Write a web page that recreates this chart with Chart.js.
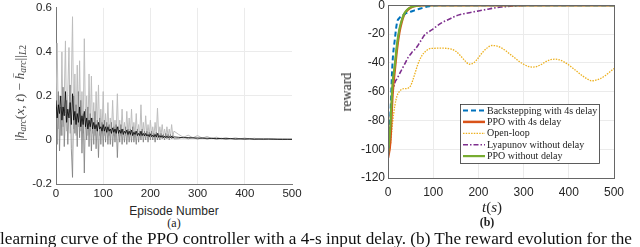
<!DOCTYPE html>
<html>
<head>
<meta charset="utf-8">
<script src="https://cdn.jsdelivr.net/npm/chart.js@4.4.0/dist/chart.umd.min.js"></script>
<style>
body { margin: 0; width: 640px; height: 247px; overflow: hidden; background: #fff; position: relative; font-family: 'Liberation Serif', serif; }
canvas { position: absolute; }
#learnChart { left: 0; top: -3px; }
#rewardChart { left: 320px; top: -5px; }
.lbl { position: absolute; white-space: nowrap; color: #222; transform: translate(-50%, -50%); }
.rot { transform: translate(-50%, -50%) rotate(-90deg); }
.lbl sub { font-size: 70%; vertical-align: -2px; }
</style>
</head>
<body>
<canvas id="learnChart" width="310" height="203"></canvas>
<canvas id="rewardChart" width="320" height="205"></canvas>

<div class="lbl rot" style="left:20px; top:93px; font-size:13.5px; color:#444;">|<i>h</i><sub><i>arc</i></sub>(<i>x</i>, <i>t</i>) &minus; <i>h&#772;</i><sub><i>arc</i></sub>||<sub><i>L</i>2</sub></div>
<div class="lbl" style="left:174px; top:211px; font:12px 'Liberation Sans', sans-serif; color:#262626;">Episode Number</div>
<div class="lbl" style="left:174px; top:222.5px; font-size:12px;">(a)</div>
<div class="lbl rot" style="left:347px; top:92px; font-size:14px;">reward</div>
<div class="lbl" style="left:492px; top:207px; font-size:15px;"><i>t</i>(<i>s</i>)</div>
<div class="lbl" style="left:487px; top:222px; font-size:12px; font-weight:bold;">(b)</div>
<div id="caption" class="lbl" style="left:0; top:229px; transform:none; font-size:16px; color:#111;">learning curve of the PPO controller with a 4-s input delay. (b) The reward evolution for the</div>

<script>
// (a) learning curve: every 2.5 episodes up to 250, then every 10
const lightTrace = [0.15, 0.44, 0.05, 0.20, 0.02, 0.40, 0.06, 0.18, 0.45, 0.04,
  0.22, 0.42, 0.03, 0.25, 0.56, 0.05, 0.30, 0.02, 0.34, 0.06,
  0.36, 0.04, 0.22, 0.03, 0.46, 0.05, 0.20, 0.02, 0.30, 0.04,
  0.29, 0.03, 0.17, 0.02, 0.22, 0.04, 0.25, 0.02, 0.14, 0.03,
  0.22, 0.02, 0.12, 0.03, 0.17, 0.02, 0.10, 0.03, 0.18, 0.02,
  0.09, 0.03, 0.21, 0.02, 0.09, 0.02, 0.14, 0.03, 0.08, 0.02,
  0.13, 0.02, 0.10, 0.02, 0.14, 0.02, 0.08, 0.02, 0.12, 0.02,
  0.07, 0.02, 0.16, 0.02, 0.08, 0.02, 0.11, 0.02, 0.07, 0.02,
  0.09, 0.02, 0.06, 0.02, 0.08, 0.02, 0.145, 0.02, 0.06, 0.02,
  0.07, 0.015, 0.05, 0.015, 0.06, 0.015, 0.05, 0.015, 0.07, 0.015,
  0.04,
  0.025, 0.012, 0.022, 0.01, 0.02, 0.008, 0.016, 0.007, 0.013, 0.006,
  0.011, 0.005, 0.01, 0.005, 0.009, 0.004, 0.008, 0.004, 0.007, 0.004,
  0.006, 0.004, 0.006, 0.003, 0.005];
const midTrace = [0.12, -0.02, 0.22, -0.05, 0.15, 0.02, 0.24, -0.03, 0.12, 0.18,
  -0.02, 0.14, 0.25, -0.04, -0.17, 0.20, 0.03, 0.16, -0.03, 0.22,
  0.01, 0.18, -0.06, 0.12, -0.15, 0.14, 0.00, 0.15, -0.03, 0.12,
  -0.05, 0.10, -0.02, 0.13, -0.04, 0.09, -0.08, 0.10, -0.02, 0.08,
  -0.03, 0.09, -0.01, 0.08, -0.02, 0.07, -0.02, 0.08, -0.03, 0.06,
  -0.01, 0.07, -0.08, 0.06, -0.01, 0.07, -0.02, 0.05, -0.01, 0.06,
  -0.02, 0.05, -0.01, 0.05, -0.01, 0.06, -0.01, 0.04, -0.02, 0.05,
  -0.01, 0.04, 0.00, 0.05, -0.01, 0.04, 0.00, 0.04, -0.01, 0.035,
  0.00, 0.04, 0.00, 0.03, -0.01, 0.035, 0.00, 0.03, 0.00, 0.03,
  0.005, 0.025, 0.00, 0.03, 0.005, 0.025, 0.00, 0.025, 0.005, 0.02,
  0.005,
  0.006, 0.014, 0.005, 0.012, 0.004, 0.011, 0.004, 0.009, 0.003, 0.008,
  0.003, 0.007, 0.003, 0.006, 0.002, 0.006, 0.002, 0.005, 0.002, 0.005,
  0.002, 0.004, 0.002, 0.004, 0.002];
const meanTrace = [0.18, 0.10, 0.16, 0.12, 0.20, 0.09, 0.15, 0.11, 0.22, 0.08,
  0.14, 0.10, 0.17, 0.07, 0.21, 0.09, 0.13, 0.07, 0.12, 0.08,
  0.15, 0.06, 0.11, 0.07, 0.13, 0.06, 0.10, 0.05, 0.09, 0.06,
  0.10, 0.05, 0.08, 0.05, 0.07, 0.04, 0.08, 0.05, 0.06, 0.04,
  0.07, 0.04, 0.06, 0.035, 0.06, 0.04, 0.05, 0.03, 0.055, 0.035,
  0.05, 0.03, 0.06, 0.03, 0.045, 0.03, 0.05, 0.025, 0.04, 0.03,
  0.045, 0.025, 0.04, 0.025, 0.045, 0.02, 0.035, 0.025, 0.04, 0.02,
  0.03, 0.02, 0.04, 0.02, 0.03, 0.018, 0.03, 0.018, 0.025, 0.015,
  0.028, 0.015, 0.022, 0.014, 0.025, 0.013, 0.03, 0.012, 0.02, 0.012,
  0.02, 0.01, 0.018, 0.01, 0.017, 0.01, 0.016, 0.009, 0.018, 0.009,
  0.014,
  0.012, 0.01, 0.011, 0.009, 0.009, 0.008, 0.008, 0.007, 0.007, 0.006,
  0.006, 0.006, 0.005, 0.005, 0.005, 0.005, 0.004, 0.004, 0.004, 0.004,
  0.004, 0.003, 0.003, 0.003, 0.003];
const episodes = lightTrace.map((_, i) => (i <= 100 ? i * 2.5 : 250 + (i - 100) * 10));

// (b) reward evolution
const times = [0, 5, 10, 15, 20, 25, 30, 35, 40, 45, 50, 55, 60, 65, 70, 75, 80, 85, 90, 95, 100,
  110, 120, 130, 140, 150, 160, 170, 180, 190, 200, 210, 220, 230, 240, 250, 260, 270, 280, 290, 300,
  310, 320, 330, 340, 350, 360, 370, 380, 390, 400, 410, 420, 430, 440, 450, 460, 470, 480, 490, 500];
const zeros40 = [0, 0, 0, 0, 0, 0, 0, 0, 0, 0, 0, 0, 0, 0, 0, 0, 0, 0, 0, 0,
  0, 0, 0, 0, 0, 0, 0, 0, 0, 0, 0, 0, 0, 0, 0, 0, 0, 0, 0, 0];
const backstepping = [-105, -78, -40, -24, -12, -9, -7.5, -6.5, -5.5, -5, -4.5, -4, -3.5, -3, -2.5, -2, -1.5, -1.1, -0.7, -0.4, -0.2].concat(zeros40);
const ppoDelay = [-106, -95, -62, -45, -30, -19, -12, -7, -4.5, -2.8, -1.7, -1, -0.6, -0.3, -0.15, -0.05, 0, 0, 0, 0, 0].concat(zeros40);
const openLoop = [-105, -98, -82, -70, -63, -60, -58.5, -58, -58, -57.5, -56, -52, -47, -42, -38, -35, -33, -31.5, -30.5, -30, -30,
  -29.8, -29.8, -30, -30.5, -32, -35, -38.5, -41, -40, -36.5,
  -32.5, -29.5, -28, -28.3, -29.5, -31.5, -34, -36.5, -39, -41,
  -42.5, -43, -42.5, -41, -39, -37.8, -37.5, -38, -39.5, -41.5,
  -44, -46.5, -49, -51, -52.5, -52, -51, -49, -46.5, -44];
const lyapunov = [-105, -80, -62, -54, -51, -48, -45, -42, -39, -36, -34, -32, -30.5, -28.5, -26, -23.5, -21, -19.5, -18.5, -17.5, -16.5,
  -14, -12, -10.5, -9, -7.5, -6.5, -5.8, -5.2, -4.6, -4,
  -3.4, -2.8, -2.2, -1.7, -1.3, -1, -0.7, -0.5, -0.3, -0.15,
  0, 0, 0, 0, 0, 0, 0, 0, 0, 0,
  0, 0, 0, 0, 0, 0, 0, 0, 0, 0];
const ppoNoDelay = [-103, -85, -55, -42, -27, -17, -11, -6.5, -4, -2.5, -1.5, -0.9, -0.5, -0.25, -0.1, 0, 0, 0, 0, 0, 0].concat(zeros40);

const tickFont = { family: "'Liberation Sans', sans-serif", size: 11.5 };
const gridCol = '#ebebeb';

new Chart(document.getElementById('learnChart'), {
    type: 'line',
    data: {
        labels: episodes,
        datasets: [
            { data: meanTrace, borderColor: '#000', borderWidth: 0.8, order: 0 },
            { data: midTrace, borderColor: '#7d7d7d', borderWidth: 0.8, order: 1 },
            { data: lightTrace, borderColor: '#bdbdbd', borderWidth: 1, order: 2 }
        ]
    },
    options: {
        responsive: false,
        animation: false,
        layout: { padding: { left: 0, right: 18, top: 10, bottom: 0 } },
        elements: { point: { radius: 0 }, line: { tension: 0 } },
        scales: {
            x: {
                type: 'linear', min: 0, max: 500,
                afterFit: s => { s.height = 16; },
                ticks: { stepSize: 100, font: tickFont, color: '#262626', padding: 3, maxRotation: 0 },
                grid: { color: c => c.tick && c.tick.value === 500 ? 'transparent' : gridCol, drawTicks: false },
                border: { color: '#777' }
            },
            y: {
                min: -0.2, max: 0.6,
                afterFit: s => { s.width = 56; },
                ticks: { stepSize: 0.2, font: tickFont, color: '#262626', padding: 4,
                    callback: v => String(Number(v.toFixed(1))) },
                grid: { color: c => c.tick && Math.abs(c.tick.value - 0.6) < 1e-6 ? 'transparent' : gridCol, drawTicks: false },
                border: { color: '#777' }
            }
        },
        plugins: { legend: { display: false }, tooltip: { enabled: false } }
    }
});

const legendBox = {
    id: 'legendBox',
    afterDraw(chart) {
        const c = chart.ctx;
        const a = chart.chartArea;
        const top = 109;
        c.save();
        c.strokeStyle = '#666';
        c.lineWidth = 1;
        c.strokeRect(Math.round(a.left) + 0.5, Math.round(a.top) + 0.5, Math.round(a.right - a.left), Math.round(a.bottom - a.top));
        c.fillStyle = '#fff';
        c.fillRect(140.5, top + 0.5, 139, 59);
        c.strokeStyle = '#333';
        c.lineWidth = 0.8;
        c.strokeRect(140.5, top + 0.5, 139, 59);
        c.font = "10px 'Liberation Serif', serif";
        c.textBaseline = 'middle';
        chart.data.datasets.forEach((ds, i) => {
            const y = top + 6.5 + i * 11.4;
            c.setLineDash(ds.borderDash || []);
            c.strokeStyle = ds.borderColor;
            c.lineWidth = ds.borderWidth;
            c.beginPath(); c.moveTo(143, y); c.lineTo(165, y); c.stroke();
            c.setLineDash([]);
            c.fillStyle = '#222';
            c.fillText(ds.label, 167, y + 0.5);
        });
        c.restore();
    }
};

new Chart(document.getElementById('rewardChart'), {
    type: 'line',
    data: {
        labels: times,
        datasets: [
            { label: 'Backstepping with 4s delay', data: backstepping, borderColor: '#0072BD', borderWidth: 2, borderDash: [5, 3], order: 1 },
            { label: 'PPO with 4s delay', data: ppoDelay, borderColor: '#D95319', borderWidth: 2.5, order: 2 },
            { label: 'Open-loop', data: openLoop, borderColor: '#EDB120', borderWidth: 1.3, borderDash: [1.5, 1.2], order: 4 },
            { label: 'Lyapunov without delay', data: lyapunov, borderColor: '#7E2F8E', borderWidth: 1.6, borderDash: [5, 2, 1.5, 2], order: 3 },
            { label: 'PPO without delay', data: ppoNoDelay, borderColor: '#77AC30', borderWidth: 2.2, order: 0 }
        ]
    },
    options: {
        responsive: false,
        animation: false,
        layout: { padding: { left: 0, right: 26, top: 10, bottom: 0 } },
        elements: { point: { radius: 0 }, line: { cubicInterpolationMode: 'monotone' } },
        scales: {
            x: {
                type: 'linear', min: 0, max: 500,
                afterFit: s => { s.height = 22; },
                ticks: { stepSize: 100, font: { family: "'Liberation Sans', sans-serif", size: 12 }, color: '#262626', padding: 7, maxRotation: 0 },
                grid: { color: gridCol, drawTicks: false },
                border: { display: false }
            },
            y: {
                min: -120, max: 0,
                afterFit: s => { s.width = 68; },
                ticks: { stepSize: 20, font: { family: "'Liberation Sans', sans-serif", size: 12 }, color: '#262626', padding: 3 },
                grid: { color: gridCol, drawTicks: false },
                border: { display: false }
            }
        },
        plugins: { legend: { display: false }, tooltip: { enabled: false } }
    },
    plugins: [legendBox]
});

// fit caption to the page width
const cap = document.getElementById('caption');
cap.style.fontSize = (16 * 632 / cap.offsetWidth) + 'px';
</script>
</body>
</html>
